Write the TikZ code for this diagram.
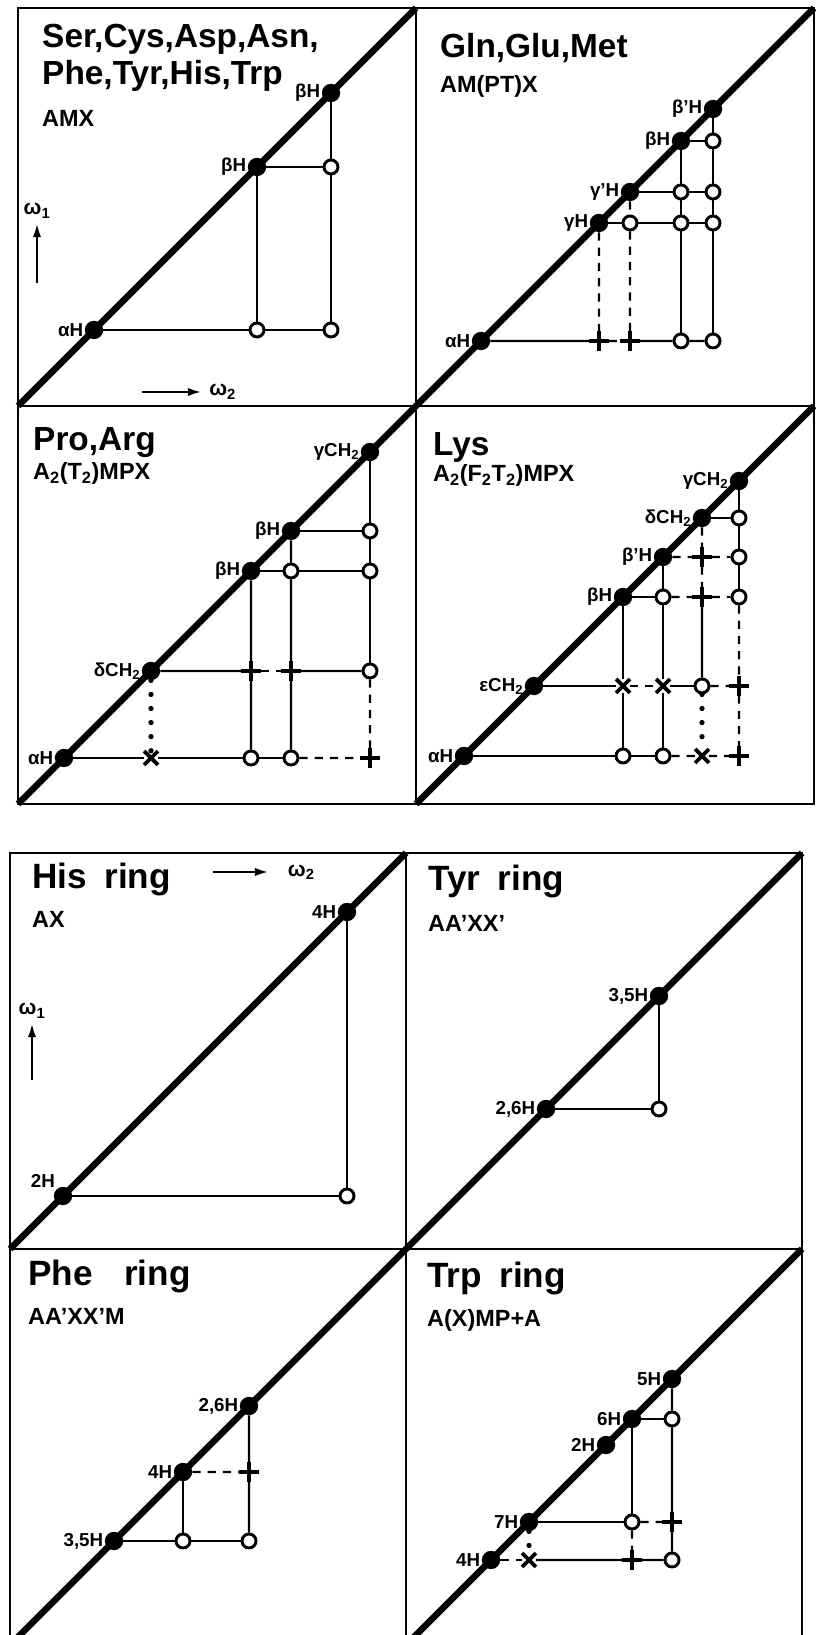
\documentclass[tikz,border=0pt]{standalone}
\usepackage{fontspec}
\setmainfont{Liberation Sans}
\usetikzlibrary{arrows.meta,positioning,shapes.misc}

\begin{document}
\begin{tikzpicture}[x=0.03cm, y=0.03cm,
    panel/.style={line width=2.2pt},
    diag/.style={line width=5.5pt},
    conn/.style={line width=1.9pt},
    dsh/.style={line width=1.9pt, dash pattern=on 7pt off 6pt},
    dotl/.style={line width=4.5pt, line cap=round, dash pattern=on 0pt off 12pt},
    dpk/.style={circle, fill, inner sep=0pt, minimum size=0.55cm},
    cpk/.style={circle, draw, fill=white, line width=2.5pt, inner sep=0pt, minimum size=0.42cm},
    plusm/.style={cross out, draw, line width=3pt, inner sep=0pt, minimum size=0.3cm, rotate=45},
    crossm/.style={cross out, draw, line width=3.3pt, inner sep=0pt, minimum size=0.3cm},
    ttl/.style={anchor=north west, align=left, inner sep=0pt, font=\fontsize{28.5}{31.5}\selectfont\bfseries},
    ttlr/.style={anchor=north west, inner sep=0pt, font=\fontsize{30}{32}\selectfont\bfseries},
    subt/.style={anchor=base west, inner sep=0pt, font=\fontsize{20}{22}\selectfont\bfseries},
    lab/.style={inner sep=1pt, font=\fontsize{16}{18}\selectfont\bfseries},
    warr/.style={line width=2.2pt, -{Latex[length=12pt,width=7pt]}},
    wlab/.style={inner sep=0pt, font=\fontsize{18}{20}\selectfont\bfseries}]

    \useasboundingbox (0,0) rectangle (815,1635);

    % frames
    \draw[panel] (18,831) rectangle (814,1627);
    \draw[panel] (416,831) -- (416,1627);
    \draw[panel] (18,1229) -- (814,1229);
    \draw[panel] (10,-10) rectangle (802,782);
    \draw[panel] (406,-10) -- (406,782);
    \draw[panel] (10,386) -- (802,386);

    % Ser, Cys, Asp, ... AMX
    \begin{scope}[shift={(18,1229)}]
        \draw[diag] (0,0) -- (398,398);
        \node[ttl] (t1) at (24,382) {Ser,Cys,Asp,Asn,\\Phe,Tyr,His,Trp};
        \node[subt] (s1) at (24,279) {AMX};
        \node[dpk] (a1) at (76,76) {};
        \node[dpk] (b1) at (239,239) {};
        \node[dpk] (bb1) at (313,313) {};
        \node[cpk] (c1ab) at (239,76) {};
        \node[cpk] (c1abb) at (313,76) {};
        \node[cpk] (c1bbb) at (313,239) {};
        \node[lab, left=0pt of a1] (la1) {αH};
        \node[lab, left=0pt of b1] (lb1) {βH};
        \node[lab, left=0pt of bb1] (lbb1) {βH};
        \draw[conn] (a1) -- (c1ab) -- (c1abb);
        \draw[conn] (b1) -- (c1ab);
        \draw[conn] (b1) -- (c1bbb);
        \draw[conn] (bb1) -- (c1bbb) -- (c1abb);
        \coordinate (w1a) at (19,123);
        \coordinate (w1b) at (19,183);
        \draw[warr] (w1a) -- (w1b);
        \node[wlab, above=4pt of w1b] (w1) {ω\textsubscript{1}};
        \coordinate (w2a) at (124,14);
        \coordinate (w2b) at (184,14);
        \draw[warr] (w2a) -- (w2b);
        \node[wlab, right=6pt of w2b] (w2) {ω\textsubscript{2}};
    \end{scope}

    % Gln, Glu, Met
    \begin{scope}[shift={(416,1229)}]
        \draw[diag] (0,0) -- (398,398);
        \node[ttl] (t2) at (24,373) {Gln,Glu,Met};
        \node[subt] (s2) at (24,313) {AM(PT)X};
        \node[dpk] (a2) at (65,65) {};
        \node[dpk] (g2) at (183,183) {};
        \node[dpk] (gg2) at (214,214) {};
        \node[dpk] (b2) at (265,265) {};
        \node[dpk] (bb2) at (297,297) {};
        \node[cpk] (c2ggg) at (214,183) {};
        \node[cpk] (c2gb) at (265,183) {};
        \node[cpk] (c2gbb) at (297,183) {};
        \node[cpk] (c2ggb) at (265,214) {};
        \node[cpk] (c2ggbb) at (297,214) {};
        \node[cpk] (c2bbb) at (297,265) {};
        \node[plusm] (p2ag) at (183,65) {};
        \node[plusm] (p2agg) at (214,65) {};
        \node[cpk] (c2ab) at (265,65) {};
        \node[cpk] (c2abb) at (297,65) {};
        \node[lab, left=0pt of a2] (la2) {αH};
        \node[lab, left=0pt of g2] (lg2) {γH};
        \node[lab, left=0pt of gg2] (lgg2) {γ'H};
        \node[lab, left=0pt of b2] (lb2) {βH};
        \node[lab, left=0pt of bb2] (lbb2) {β'H};
        \draw[conn] (a2) -- (p2ag);
        \draw[dsh] (p2ag) -- (p2agg);
        \draw[conn] (p2agg) -- (c2ab) -- (c2abb);
        \draw[conn] (g2) -- (c2ggg) -- (c2gb) -- (c2gbb);
        \draw[conn] (gg2) -- (c2ggb) -- (c2ggbb);
        \draw[conn] (b2) -- (c2bbb);
        \draw[dsh] (g2) -- (p2ag);
        \draw[dsh] (gg2) -- (c2ggg) -- (p2agg);
        \draw[conn] (b2) -- (c2ggb) -- (c2gb) -- (c2ab);
        \draw[conn] (bb2) -- (c2bbb) -- (c2ggbb) -- (c2gbb) -- (c2abb);
    \end{scope}

    % Pro, Arg
    \begin{scope}[shift={(18,831)}]
        \draw[diag] (0,0) -- (398,398);
        \node[ttl] (t3) at (15,377) {Pro,Arg};
        \node[subt] (s3) at (15,324) {A\textsubscript{2}(T\textsubscript{2})MPX};
        \node[dpk] (a3) at (46,46) {};
        \node[dpk] (d3) at (133,133) {};
        \node[dpk] (b3) at (233,233) {};
        \node[dpk] (bb3) at (273,273) {};
        \node[dpk] (g3) at (352,352) {};
        \node[cpk] (c3bbg) at (352,273) {};
        \node[cpk] (c3bbb) at (273,233) {};
        \node[cpk] (c3bg) at (352,233) {};
        \node[plusm] (p3db) at (233,133) {};
        \node[plusm] (p3dbb) at (273,133) {};
        \node[cpk] (c3dg) at (352,133) {};
        \node[crossm] (x3ad) at (133,46) {};
        \node[cpk] (c3ab) at (233,46) {};
        \node[cpk] (c3abb) at (273,46) {};
        \node[plusm] (p3ag) at (352,46) {};
        \node[lab, left=0pt of a3] (la3) {αH};
        \node[lab, left=0pt of d3] (ld3) {δCH\textsubscript{2}};
        \node[lab, left=0pt of b3] (lb3) {βH};
        \node[lab, left=0pt of bb3] (lbb3) {βH};
        \node[lab, left=0pt of g3] (lg3) {γCH\textsubscript{2}};
        \draw[conn] (bb3) -- (c3bbg);
        \draw[conn] (b3) -- (c3bbb) -- (c3bg);
        \draw[conn] (d3) -- (p3db);
        \draw[dsh] (p3db) -- (p3dbb);
        \draw[conn] (p3dbb) -- (c3dg);
        \draw[conn] (a3) -- (x3ad) -- (c3ab) -- (c3abb);
        \draw[dsh] (c3abb) -- (p3ag);
        \draw[dotl] (d3) -- (x3ad);
        \draw[conn] (b3) -- (p3db) -- (c3ab);
        \draw[conn] (bb3) -- (c3bbb) -- (p3dbb) -- (c3abb);
        \draw[conn] (g3) -- (c3bbg) -- (c3bg) -- (c3dg);
        \draw[dsh] (c3dg) -- (p3ag);
    \end{scope}

    % Lys
    \begin{scope}[shift={(416,831)}]
        \draw[diag] (0,0) -- (398,398);
        \node[ttl] (t4) at (17,372) {Lys};
        \node[subt] (s4) at (17,322) {A\textsubscript{2}(F\textsubscript{2}T\textsubscript{2})MPX};
        \node[dpk] (a4) at (48,48) {};
        \node[dpk] (e4) at (118,118) {};
        \node[dpk] (b4) at (207,207) {};
        \node[dpk] (bb4) at (247,247) {};
        \node[dpk] (d4) at (286,286) {};
        \node[dpk] (g4) at (323,323) {};
        \node[cpk] (c4dg) at (323,286) {};
        \node[plusm] (p4bbd) at (286,247) {};
        \node[cpk] (c4bbg) at (323,247) {};
        \node[cpk] (c4bbb) at (247,207) {};
        \node[plusm] (p4bd) at (286,207) {};
        \node[cpk] (c4bg) at (323,207) {};
        \node[crossm] (x4eb) at (207,118) {};
        \node[crossm] (x4ebb) at (247,118) {};
        \node[cpk] (c4ed) at (286,118) {};
        \node[plusm] (p4eg) at (323,118) {};
        \node[cpk] (c4ab) at (207,48) {};
        \node[cpk] (c4abb) at (247,48) {};
        \node[crossm] (x4ad) at (286,48) {};
        \node[plusm] (p4ag) at (323,48) {};
        \node[lab, left=0pt of a4] (la4) {αH};
        \node[lab, left=0pt of e4] (le4) {εCH\textsubscript{2}};
        \node[lab, left=0pt of b4] (lb4) {βH};
        \node[lab, left=0pt of bb4] (lbb4) {β'H};
        \node[lab, left=0pt of d4] (ld4) {δCH\textsubscript{2}};
        \node[lab, left=0pt of g4] (lg4) {γCH\textsubscript{2}};
        \draw[conn] (d4) -- (c4dg);
        \draw[dsh] (bb4) -- (p4bbd) -- (c4bbg);
        \draw[conn] (b4) -- (c4bbb);
        \draw[dsh] (c4bbb) -- (p4bd) -- (c4bg);
        \draw[conn] (e4) -- (x4eb);
        \draw[dsh] (x4eb) -- (x4ebb);
        \draw[conn] (x4ebb) -- (c4ed);
        \draw[dsh] (c4ed) -- (p4eg);
        \draw[conn] (a4) -- (c4ab) -- (c4abb);
        \draw[dsh] (c4abb) -- (x4ad) -- (p4ag);
        \draw[conn] (g4) -- (c4dg) -- (c4bbg) -- (c4bg);
        \draw[dsh] (c4bg) -- (p4eg) -- (p4ag);
        \draw[dsh] (d4) -- (p4bbd) -- (p4bd);
        \draw[conn] (p4bd) -- (c4ed);
        \draw[dotl] (c4ed) -- (x4ad);
        \draw[conn] (bb4) -- (c4bbb) -- (x4ebb) -- (c4abb);
        \draw[conn] (b4) -- (x4eb) -- (c4ab);
    \end{scope}

    % His ring
    \begin{scope}[shift={(10,386)}]
        \draw[diag] (0,0) -- (396,396);
        \node[ttlr] (t5) at (22,386) {His\hspace{0.5em}ring};
        \node[subt] (s5) at (22,321) {AX};
        \node[dpk] (his2) at (53,53) {};
        \node[dpk] (his4) at (337,337) {};
        \node[cpk] (hisc) at (337,53) {};
        \node[lab, above left=0pt of his2] (lhis2) {2H};
        \node[lab, left=0pt of his4] (lhis4) {4H};
        \draw[conn] (his2) -- (hisc) -- (his4);
        \coordinate (w5a) at (203,377);
        \coordinate (w5b) at (259,377);
        \draw[warr] (w5a) -- (w5b);
        \node[wlab, right=16pt of w5b] (w5) {ω\textsubscript{2}};
        \coordinate (w6a) at (22,169);
        \coordinate (w6b) at (22,226);
        \draw[warr] (w6a) -- (w6b);
        \node[wlab, above=4pt of w6b] (w6) {ω\textsubscript{1}};
    \end{scope}

    % Tyr ring
    \begin{scope}[shift={(406,386)}]
        \draw[diag] (0,0) -- (396,396);
        \node[ttlr] (t6) at (22,384) {Tyr\hspace{0.5em}ring};
        \node[subt] (s6) at (22,317) {AA'XX'};
        \node[dpk] (tyr26) at (140,140) {};
        \node[dpk] (tyr35) at (253,253) {};
        \node[cpk] (tyrc) at (253,140) {};
        \node[lab, left=0pt of tyr26] (ltyr26) {2,6H};
        \node[lab, left=0pt of tyr35] (ltyr35) {3,5H};
        \draw[conn] (tyr26) -- (tyrc) -- (tyr35);
    \end{scope}

    % Phe ring
    \begin{scope}[shift={(10,-10)}]
        \draw[diag] (0,0) -- (396,396);
        \node[ttlr] (t7) at (18,385) {Phe\hspace{0.9em}ring};
        \node[subt] (s7) at (18,320) {AA'XX'M};
        \node[dpk] (phe35) at (104,104) {};
        \node[dpk] (phe4) at (173,173) {};
        \node[dpk] (phe26) at (239,239) {};
        \node[cpk] (phec1) at (173,104) {};
        \node[cpk] (phec2) at (239,104) {};
        \node[plusm] (phep) at (239,173) {};
        \node[lab, left=0pt of phe35] (lphe35) {3,5H};
        \node[lab, left=0pt of phe4] (lphe4) {4H};
        \node[lab, left=0pt of phe26] (lphe26) {2,6H};
        \draw[conn] (phe35) -- (phec1) -- (phec2);
        \draw[conn] (phe4) -- (phec1);
        \draw[dsh] (phe4) -- (phep);
        \draw[conn] (phe26) -- (phep) -- (phec2);
    \end{scope}

    % Trp ring
    \begin{scope}[shift={(406,-10)}]
        \draw[diag] (0,0) -- (396,396);
        \node[ttlr] (t8) at (21,383) {Trp\hspace{0.5em}ring};
        \node[subt] (s8) at (21,318) {A(X)MP+A};
        \node[dpk] (trp4) at (85,85) {};
        \node[dpk] (trp7) at (123,123) {};
        \node[dpk] (trp2) at (200,200) {};
        \node[dpk] (trp6) at (226,226) {};
        \node[dpk] (trp5) at (266,266) {};
        \node[cpk] (trpc56) at (266,226) {};
        \node[cpk] (trpc67) at (226,123) {};
        \node[plusm] (trpp57) at (266,123) {};
        \node[crossm] (trpx47) at (123,85) {};
        \node[plusm] (trpp46) at (226,85) {};
        \node[cpk] (trpc45) at (266,85) {};
        \node[lab, left=0pt of trp4] (ltrp4) {4H};
        \node[lab, left=0pt of trp7] (ltrp7) {7H};
        \node[lab, left=0pt of trp2] (ltrp2) {2H};
        \node[lab, left=0pt of trp6] (ltrp6) {6H};
        \node[lab, left=0pt of trp5] (ltrp5) {5H};
        \draw[conn] (trp5) -- (trpc56) -- (trpp57) -- (trpc45);
        \draw[conn] (trp6) -- (trpc56);
        \draw[conn] (trp6) -- (trpc67);
        \draw[dsh] (trpc67) -- (trpp46);
        \draw[conn] (trp7) -- (trpc67);
        \draw[dsh] (trpc67) -- (trpp57);
        \draw[dsh] (trp4) -- (trpx47);
        \draw[conn] (trpx47) -- (trpp46) -- (trpc45);
        \draw[dotl] (trp7) -- (trpx47);
    \end{scope}
\end{tikzpicture}
\end{document}
